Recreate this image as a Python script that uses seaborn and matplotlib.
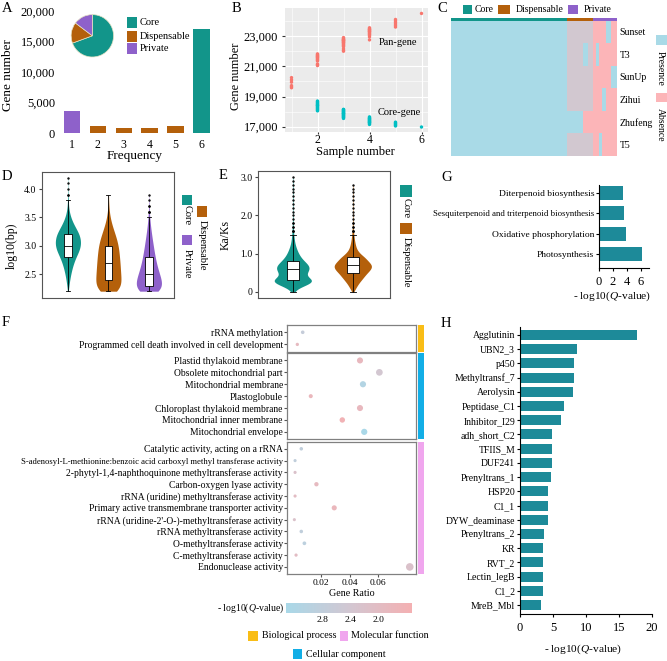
import numpy as np
import pandas as pd
import matplotlib
matplotlib.use("Agg")
import matplotlib.pyplot as plt
import seaborn as sns
from matplotlib.patches import Rectangle
from matplotlib.colors import LinearSegmentedColormap, ListedColormap, Normalize
from matplotlib.cm import ScalarMappable

plt.rcParams["font.family"] = ["Liberation Serif", "DejaVu Serif"]
plt.rcParams["mathtext.fontset"] = "custom"
plt.rcParams["mathtext.rm"] = "Liberation Serif"
plt.rcParams["mathtext.it"] = "Liberation Serif:italic"
plt.rcParams["axes.unicode_minus"] = False

CORE, DISP, PRIV = "#12958a", "#b4600b", "#8e61ca"
group_pal = {"Core": CORE, "Dispensable": DISP, "Private": PRIV}
BAR = "#1d8a99"
PRESENT, ABSENT = "#a9dae7", "#fcb5b8"

# ---- A: gene frequency
freq = [1, 2, 3, 4, 5, 6]
freq_genes = [3600, 1100, 800, 800, 1200, 17000]
freq_group = ["Private", "Dispensable", "Dispensable", "Dispensable", "Dispensable", "Core"]
pie_groups = ["Core", "Dispensable", "Private"]
pie_genes = [17000, 3900, 3600]

# ---- B: pan / core gene curves
pan_gene = {
    1: [19580, 19650, 19720, 19950, 20100, 20250],
    2: [21050, 21100, 21150, 21350, 21400, 21450, 21500, 21550, 21600, 21620, 21650, 21700, 21730, 21780, 21820],
    3: [22000, 22050, 22150, 22300, 22350, 22400, 22450, 22500, 22550, 22580, 22600, 22650, 22680, 22700, 22720,
        22750, 22780, 22800, 22850, 22900],
    4: [22750, 22950, 23050, 23100, 23150, 23200, 23250, 23300, 23320, 23350, 23400, 23430, 23450, 23500, 23550],
    5: [23600, 23700, 23800, 23900, 24000, 24100],
    6: [24500],
}
core_gene = {
    2: [18050, 18100, 18150, 18200, 18250, 18300, 18350, 18400, 18420, 18450, 18500, 18550, 18600, 18650, 18700],
    3: [17550, 17600, 17630, 17660, 17700, 17730, 17760, 17800, 17830, 17860, 17880, 17900, 17930, 17960, 18000,
        18030, 18060, 18100, 18130, 18150],
    4: [17150, 17200, 17250, 17280, 17300, 17330, 17360, 17400, 17430, 17460, 17500, 17530, 17560, 17600, 17650],
    5: [17050, 17100, 17150, 17200, 17250, 17300],
    6: [16980],
}

# ---- C: presence / absence (fraction present per gene block)
heat_samples = ["Sunset", "T3", "SunUp", "Zihui", "Zhufeng", "T5"]
heat_block_width = [116, 8, 8, 5, 5, 3, 3, 3, 4, 5, 6]
heat_block_group = ["Core"] + ["Dispensable"] * 4 + ["Private"] * 6
heat_presence = [
    [1, 0.5, 0.5, 0.5, 0.5, 0, 0, 0, 0, 1, 0],
    [1, 0.5, 0.5, 1, 0.5, 0, 1, 0, 0, 0, 0],
    [1, 0.5, 0.5, 0.5, 0.5, 0, 0, 0, 0, 0, 1],
    [1, 0.5, 0.5, 0.5, 0.5, 0, 0, 0, 1, 0, 0],
    [1, 1, 1, 0, 0, 0, 0, 0, 0, 0, 0],
    [1, 0.5, 0.5, 0.5, 0.5, 0, 0, 1, 0, 0, 0],
]

# ---- D: gene length, log10(bp) histogram counts
d_levels = [2.2, 2.3, 2.4, 2.5, 2.6, 2.7, 2.8, 2.9, 3.0, 3.1, 3.2, 3.3, 3.4, 3.5, 3.6, 3.7, 3.8, 3.9, 4.0, 4.1, 4.2]
d_core = [3, 8, 14, 22, 32, 45, 62, 85, 100, 100, 90, 65, 40, 22, 10, 5, 3, 2, 1, 1, 1]
d_disp = [60, 75, 75, 72, 70, 68, 65, 62, 58, 50, 40, 28, 18, 10, 5, 3, 1, 1, 0, 0, 0]
d_priv = [85, 95, 88, 75, 62, 52, 44, 37, 31, 25, 19, 14, 9, 6, 3, 2, 1, 1, 0, 0, 0]

# ---- E: Ka/Ks histogram counts
e_levels = [0.0, 0.1, 0.2, 0.3, 0.4, 0.5, 0.6, 0.7, 0.8, 0.9, 1.0, 1.1, 1.2, 1.3, 1.4, 1.5, 1.6, 1.7, 1.8, 1.9,
            2.0, 2.1, 2.2, 2.3, 2.4, 2.5, 2.6, 2.7, 2.8, 2.9, 3.0]
e_core = [5, 20, 70, 100, 55, 60, 75, 70, 50, 35, 25, 18, 12, 8, 6, 4, 3, 2, 2, 1,
          1, 1, 1, 1, 1, 1, 1, 1, 1, 1, 1]
e_disp = [3, 15, 25, 40, 55, 70, 90, 95, 75, 60, 35, 20, 14, 10, 7, 5, 3, 2, 2, 1,
          1, 1, 1, 1, 1, 1, 1, 1, 1, 0, 0]

# ---- F: GO enrichment
bp_terms = ["rRNA methylation", "Programmed cell death involved in cell development"]
bp_ratio = [0.0069, 0.0031]
bp_logq = [2.7, 1.9]
cc_terms = ["Plastid thylakoid membrane", "Obsolete mitochondrial part", "Mitochondrial membrane", "Plastoglobule",
            "Chloroplast thylakoid membrane", "Mitochondrial inner membrane", "Mitochondrial envelope"]
cc_ratio = [0.0474, 0.0611, 0.0495, 0.0126, 0.0474, 0.0349, 0.0504]
cc_logq = [1.85, 2.4, 3.1, 1.8, 1.85, 1.6, 3.3]
mf_terms = ["Catalytic activity, acting on a rRNA",
            "S-adenosyl-L-methionine:benzoic acid carboxyl methyl transferase activity",
            "2-phytyl-1,4-naphthoquinone methyltransferase activity", "Carbon-oxygen lyase activity",
            "rRNA (uridine) methyltransferase activity", "Primary active transmembrane transporter activity",
            "rRNA (uridine-2'-O-)-methyltransferase activity", "rRNA methyltransferase activity",
            "O-methyltransferase activity", "C-methyltransferase activity", "Endonuclease activity"]
mf_ratio = [0.0059, 0.0015, 0.0015, 0.0166, 0.0015, 0.0292, 0.001, 0.0059, 0.0081, 0.0022, 0.0826]
mf_logq = [2.8, 2.8, 2.2, 1.9, 2.0, 1.8, 2.2, 2.8, 2.9, 2.0, 2.2]

# ---- G: KEGG
g_terms = ["Diterpenoid biosynthesis", "Sesquiterpenoid and triterpenoid biosynthesis",
           "Oxidative phosphorylation", "Photosynthesis"]
g_vals = [3.4, 3.6, 3.8, 6.1]

# ---- H: Pfam
h_terms = ["Agglutinin", "UBN2_3", "p450", "Methyltransf_7", "Aerolysin", "Peptidase_C1", "Inhibitor_I29",
           "adh_short_C2", "TFIIS_M", "DUF241", "Prenyltrans_1", "HSP20", "C1_1", "DYW_deaminase",
           "Prenyltrans_2", "KR", "RVT_2", "Lectin_legB", "C1_2", "MreB_Mbl"]
h_vals = [17.7, 8.6, 8.2, 8.2, 8.0, 6.7, 6.2, 4.9, 4.9, 4.85, 4.7, 4.3, 4.2, 4.2, 3.6, 3.5, 3.5, 3.5, 3.45, 3.2]

W, H = 667, 661
fig = plt.figure(figsize=(W / 100, H / 100), dpi=100)


def px_box(x0, y0, x1, y1):
    return [x0 / W, 1 - y1 / H, (x1 - x0) / W, (y1 - y0) / H]


def fx(x):
    return x / W


def fy(y):
    return 1 - y / H


def ftext(x, y, s, **kw):
    fig.text(fx(x), fy(y), s, **kw)


def fsquare(x0, y0, x1, y1, color):
    fig.add_artist(Rectangle((fx(x0), fy(y1)), (x1 - x0) / W, (y1 - y0) / H,
                             transform=fig.transFigure, facecolor=color, edgecolor="none"))


def label_at(ax, xlabel=None, xpos=None, ylabel=None, ypos=None, size=8.5):
    if xlabel is not None:
        ax.set_xlabel(xlabel, fontsize=size)
        ax.xaxis.set_label_coords(fx(xpos[0]), fy(xpos[1]), transform=fig.transFigure)
    if ylabel is not None:
        ax.set_ylabel(ylabel, fontsize=size)
        ax.yaxis.set_label_coords(fx(ypos[0]), fy(ypos[1]), transform=fig.transFigure)


# ================= A
ax = fig.add_axes(px_box(58, 11, 212, 133))
dfa = pd.DataFrame({"freq": freq, "genes": freq_genes, "group": freq_group})
sns.barplot(data=dfa, x="freq", y="genes", hue="group", palette=group_pal, dodge=False,
            width=0.64, saturation=1, legend=False, ax=ax)
ax.set_xlim(-0.54, 5.4)
ax.set_ylim(0, 20000)
ax.set_yticks([0, 5000, 10000, 15000, 20000])
ax.set_yticklabels(["0", "5,000", "10,000", "15,000", "20,000"])
for s in ax.spines.values():
    s.set_visible(False)
ax.tick_params(axis="y", length=0, labelsize=9, pad=2)
ax.tick_params(axis="x", length=0, labelsize=8.5, pad=4)
label_at(ax, "Frequency", (135, 149.5), "Gene number", (14, 75), size=9.5)

axp = fig.add_axes(px_box(65.7, 9.3, 119, 62.3))
axp.pie(pie_genes, colors=[group_pal[g] for g in pie_groups], startangle=90, counterclock=False,
        wedgeprops={"linewidth": 0.5, "edgecolor": "#e6e2c4"})
for g, (y0, y1) in zip(pie_groups, [(17.3, 28.3), (30.7, 41.7), (43.3, 54)]):
    fsquare(126.7, y0, 137.3, y1, group_pal[g])
    ftext(139.3, (y0 + y1) / 2, g, fontsize=7.5, va="center", ha="left")

# ================= B
rows = []
for n, vals in pan_gene.items():
    rows += [(n, v, "Pan-gene") for v in vals]
for n, vals in core_gene.items():
    rows += [(n, v, "Core-gene") for v in vals]
dfb = pd.DataFrame(rows, columns=["n", "genes", "kind"])
axb = fig.add_axes(px_box(285, 8, 428, 132))
axb.set_facecolor("#ebebeb")
sns.scatterplot(data=dfb, x="n", y="genes", hue="kind", palette={"Pan-gene": "#f8766d", "Core-gene": "#00bfc4"},
                s=6, linewidth=0, legend=False, ax=axb)
axb.set_xlim(0.75, 6.25)
axb.set_ylim(16650, 24860)
axb.set_xticks([2, 4, 6])
axb.set_xticks([1, 3, 5], minor=True)
axb.set_yticks([17000, 19000, 21000, 23000])
axb.set_yticklabels(["17,000", "19,000", "21,000", "23,000"])
axb.set_yticks([18000, 20000, 22000, 24000], minor=True)
axb.grid(which="major", color="white", lw=0.8)
axb.grid(which="minor", color="white", lw=0.4)
axb.set_axisbelow(True)
for s in axb.spines.values():
    s.set_visible(False)
axb.tick_params(axis="y", which="major", length=2, color="#333333", labelsize=9, pad=3)
axb.tick_params(axis="x", which="major", length=1.5, color="#333333", labelsize=8.5, pad=0)
axb.tick_params(which="minor", length=0)
axb.text(5.08, 22600, "Pan-gene", fontsize=7.5, ha="center", va="center")
axb.text(5.14, 17950, "Core-gene", fontsize=7.5, ha="center", va="center")
label_at(axb, "Sample number", (355, 146.5), "Gene number", (242, 76), size=9)

# ================= C
heat_mat = np.repeat(np.array(heat_presence, dtype=float), heat_block_width, axis=1)
axc = fig.add_axes(px_box(451, 20.7, 617, 155.7))
sns.heatmap(heat_mat, cmap=LinearSegmentedColormap.from_list("pa", [ABSENT, PRESENT]), vmin=0, vmax=1,
            cbar=False, xticklabels=False, yticklabels=heat_samples, ax=axc)
axc.yaxis.tick_right()
axc.tick_params(axis="y", length=0, labelsize=7, pad=2, labelrotation=0)
group_code = {"Core": 0, "Dispensable": 1, "Private": 2}
codes = np.repeat([group_code[g] for g in heat_block_group], heat_block_width)[None, :]
axca = fig.add_axes(px_box(451, 17.5, 617, 20.7))
sns.heatmap(codes, cmap=ListedColormap([CORE, DISP, PRIV]), vmin=-0.5, vmax=2.5, cbar=False,
            xticklabels=False, yticklabels=False, ax=axca)
for g, sx0, sx1, tx in [("Core", 463.3, 471.7, 474.3), ("Dispensable", 498.3, 510, 515.7),
                        ("Private", 567.7, 578.3, 583.3)]:
    fsquare(sx0, 5, sx1, 14, group_pal[g])
    ftext(tx, 9.5, g, fontsize=7, va="center", ha="left")
fsquare(656, 35, 668, 45, PRESENT)
ftext(660, 68, "Presence", fontsize=7, rotation=-90, va="center", ha="center")
fsquare(656, 93, 668, 102, ABSENT)
ftext(660, 125, "Absence", fontsize=7, rotation=-90, va="center", ha="center")


# ================= D / E violins
def violin_panel(box, levels, counts, order, xlim, ylim, yticks, yticklabels, bw):
    axv = fig.add_axes(px_box(*box))
    dfv = pd.concat([pd.DataFrame({"group": g, "value": np.repeat(levels, c)}) for g, c in zip(order, counts)])
    sns.violinplot(data=dfv, x="group", y="value", hue="group", order=order, hue_order=order, palette=group_pal,
                   inner=None, cut=0, density_norm="width", width=0.62, linewidth=0, saturation=1,
                   bw_adjust=bw, legend=False, ax=axv)
    sns.boxplot(data=dfv, x="group", y="value", order=order, width=0.19, color="white", saturation=1,
                linecolor="black", linewidth=0.6, fliersize=0.7, flierprops={"marker": "o"}, ax=axv)
    axv.set_xlim(*xlim)
    axv.set_ylim(*ylim)
    axv.set_yticks(yticks)
    axv.set_yticklabels(yticklabels)
    axv.set_xlabel("")
    axv.tick_params(axis="x", length=0, labelbottom=False)
    axv.tick_params(axis="y", length=2, labelsize=7, pad=2, color="#444444")
    for s in axv.spines.values():
        s.set_color("#555555")
        s.set_linewidth(0.8)
    return axv


axd = violin_panel((42, 172, 174, 298), d_levels, [d_core, d_disp, d_priv], ["Core", "Dispensable", "Private"],
                   (-0.64, 2.62), (2.08, 4.3), [2.5, 3.0, 3.5, 4.0], ["2.5", "3.0", "3.5", "4.0"], 1.0)
label_at(axd, ylabel="log10(bp)", ypos=(18, 246), size=8.5)
for g, sq, ty, tx in [("Core", (181.7, 195, 191.7, 205), 215.5, 187),
                      ("Dispensable", (196.7, 206, 207.3, 216.7), 245, 202),
                      ("Private", (181.7, 235, 191.7, 245), 264, 187)]:
    fsquare(*sq, group_pal[g])
    ftext(tx, ty, g, fontsize=7.5, rotation=-90, va="center", ha="center")

axe = violin_panel((258, 171, 390, 298), e_levels, [e_core, e_disp], ["Core", "Dispensable"],
                   (-0.58, 1.62), (-0.16, 3.16), [0, 1, 2, 3], ["0", "1.0", "2.0", "3.0"], 0.7)
label_at(axe, ylabel="Ka/Ks", ypos=(232, 235), size=8.5)
for g, sq, ty in [("Core", (400, 185, 411.7, 196.7), 208), ("Dispensable", (400, 223, 411.7, 234), 262.5)]:
    fsquare(*sq, group_pal[g])
    ftext(406, ty, g, fontsize=7.5, rotation=-90, va="center", ha="center")

# ================= F
f_cmap = LinearSegmentedColormap.from_list("q", ["#f4b0b2", "#d2c7d2", "#a9d8e8"])
f_norm = Normalize(vmin=1.52, vmax=3.32)
facets = [(bp_terms, bp_ratio, bp_logq, 325, 351.7, "#f9bd16"),
          (cc_terms, cc_ratio, cc_logq, 353.3, 439, "#12aee6"),
          (mf_terms, mf_ratio, mf_logq, 441.7, 574, "#f0a6ee")]
for i, (terms, ratio, logq, y0, y1, col) in enumerate(facets):
    axf = fig.add_axes(px_box(287, y0, 416, y1))
    dff = pd.DataFrame({"term": terms, "ratio": ratio, "logq": logq})
    sns.scatterplot(data=dff, x="ratio", y="term", hue="logq", hue_norm=f_norm, palette=f_cmap,
                    size="ratio", size_norm=(0.001, 0.083), sizes=(5, 30), linewidth=0, legend=False, ax=axf)
    axf.set_ylim(len(terms) - 0.4, -0.6)
    axf.set_xlim(-0.0042, 0.087)
    axf.set_xticks([0.02, 0.04, 0.06])
    axf.set_xticklabels(["0.02", "0.04", "0.06"])
    axf.set_xlabel("")
    axf.set_ylabel("")
    for s in axf.spines.values():
        s.set_color("#808080")
        s.set_linewidth(0.9)
    axf.tick_params(axis="y", length=2, labelsize=6.9, pad=1, color="#555555")
    for t in axf.get_yticklabels():
        if t.get_text().startswith("S-adenosyl"):
            t.set_fontsize(6.2)
    if i < 2:
        axf.tick_params(axis="x", length=0, labelbottom=False)
    else:
        axf.tick_params(axis="x", length=2, labelsize=6.8, pad=1.5, color="#555555")
        label_at(axf, "Gene Ratio", (352, 589), size=7.2)
    fsquare(417.7, y0, 424, y1, col)

cax = fig.add_axes(px_box(286, 603, 412, 613))
cb = fig.colorbar(ScalarMappable(norm=f_norm, cmap=f_cmap), cax=cax, orientation="horizontal")
cax.invert_xaxis()
cb.set_ticks([2.8, 2.4, 2.0])
cb.set_ticklabels(["2.8", "2.4", "2.0"])
cb.outline.set_visible(False)
cax.tick_params(length=0, labelsize=6.8, pad=2)
ftext(284, 608, "- log10($Q$-value)", fontsize=7, ha="right", va="center")
for name, sq, tx, ty in [("Biological process", (248.3, 630.7, 258.3, 641), 261.7, 636),
                         ("Molecular function", (340, 630.7, 348.3, 641), 350.7, 636),
                         ("Cellular component", (292.7, 649.3, 302.3, 659.3), 305.7, 654.3)]:
    fsquare(*sq, {"Biological process": "#f9bd16", "Molecular function": "#f0a6ee",
                  "Cellular component": "#12aee6"}[name])
    ftext(tx, ty, name, fontsize=7.2, ha="left", va="center")


# ================= G / H bars
def hbar_panel(box, terms, vals, xlim, ylim, xticks, ysize):
    axh = fig.add_axes(px_box(*box))
    sns.barplot(x=vals, y=terms, color=BAR, saturation=1, width=0.7, orient="h", ax=axh)
    axh.set_xlim(*xlim)
    axh.set_ylim(*ylim)
    axh.set_xticks(xticks)
    axh.set_xticklabels([str(v) for v in xticks])
    for side in ["top", "right"]:
        axh.spines[side].set_visible(False)
    for side in ["left", "bottom"]:
        axh.spines[side].set_color("black")
        axh.spines[side].set_linewidth(0.8)
    axh.tick_params(axis="y", length=2.5, labelsize=ysize, pad=1)
    axh.tick_params(axis="x", length=2.5, labelsize=9, pad=3)
    return axh


axg = hbar_panel((599, 185, 649, 268), g_terms, g_vals, (0, 7.15), (3.7, -0.4), [0, 2, 4, 6], 6.8)
for t in axg.get_yticklabels():
    if t.get_text().startswith("Sesqui"):
        t.set_fontsize(6.3)
label_at(axg, "- log10($Q$-value)", (612, 289), size=8.2)

axh = hbar_panel((520, 327, 652, 614), h_terms, h_vals, (0, 20), (19.63, -0.56), [0, 5, 10, 15, 20], 7)
label_at(axh, "- log10($Q$-value)", (583, 642), size=8.2)

# ================= panel letters
for s, x, y in [("A", 2, 2), ("B", 232, 2), ("C", 437, 2), ("D", 2, 170), ("E", 219, 169),
                ("F", 2, 316), ("G", 441, 171), ("H", 441, 317)]:
    ftext(x, y, s, fontsize=10.5, va="top", ha="left")

fig.savefig("out.png", dpi=100)
